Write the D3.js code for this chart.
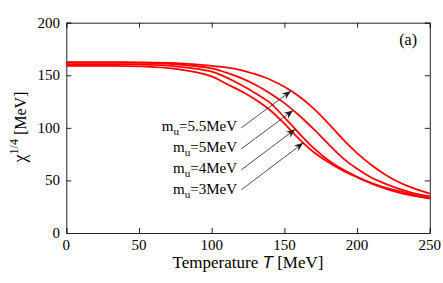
<!DOCTYPE html>
<html>
<head>
<meta charset="utf-8">
<script src="https://cdn.jsdelivr.net/npm/d3@7"></script>
<style>
  body { margin: 0; background: #fff; }
</style>
</head>
<body>
<div id="chart"></div>
<script>
const temps = [0, 25, 50, 75, 100, 110, 120, 130, 140, 150, 160, 170, 180, 190, 200, 210, 220, 230, 240, 250];

// chi^{1/4} in MeV for each quark mass
const chi55 = [162.5, 162.5, 162.3, 161.5, 159, 157.5, 155, 151, 146, 139, 130, 118.5, 104.5, 89.5, 76, 64.5, 55, 47.5, 42, 37.5];
const chi5  = [162, 162, 161.8, 160.5, 156.5, 152.5, 147.5, 141, 133, 123.5, 112, 99, 85, 71.5, 61, 52.5, 46.5, 41.5, 37.5, 35];
const chi4  = [160.5, 160.5, 160.3, 158.5, 153.5, 148, 141, 133, 124, 110, 95, 81, 69.5, 60.5, 53.5, 47.5, 43, 39.5, 36, 33.5];
const chi3  = [159, 159, 158.5, 156, 149, 142, 135, 127, 117, 104, 89.5, 77, 67.5, 59.5, 53, 47, 42, 38, 35, 32.8];

const labels = ["5.5MeV", "5MeV", "4MeV", "3MeV"];
// where each arrow touches its curve (T), and where the labels sit (data units)
const arrowTipT = [154.5, 156, 157.5, 163];
const labelT = 117.4;
const labelV = [97, 77, 57, 37.5];
const arrowStartT = 120.3;
const arrowStartV = [100, 80, 60, 41];

const xTicks = [0, 50, 100, 150, 200, 250];
const yTicks = [0, 50, 100, 150, 200];

const series = [chi55, chi5, chi4, chi3];

const serif = "'Liberation Serif', 'Times New Roman', serif";
const width = 443, height = 283;
const svg = d3.select("#chart").append("svg")
    .attr("width", width)
    .attr("height", height)
    .style("font-family", serif);

const x = d3.scaleLinear().domain([0, 250]).range([66.3, 429.8]);
const y = d3.scaleLinear().domain([0, 200]).range([233, 22.7]);

const axisColor = "#222";

// ticks (inside, all four sides)
const xAxisB = d3.axisBottom(x).tickValues(xTicks).tickSize(-5).tickFormat("");
const xAxisT = d3.axisTop(x).tickValues(xTicks).tickSize(-5).tickFormat("");
const yAxisL = d3.axisLeft(y).tickValues(yTicks).tickSize(-5).tickFormat("");
const yAxisR = d3.axisRight(y).tickValues(yTicks).tickSize(-5).tickFormat("");

svg.append("g").attr("transform", `translate(0,${y(0)})`).call(xAxisB);
svg.append("g").attr("transform", `translate(0,${y(200)})`).call(xAxisT);
svg.append("g").attr("transform", `translate(${x(0)},0)`).call(yAxisL);
svg.append("g").attr("transform", `translate(${x(250)},0)`).call(yAxisR);
svg.selectAll(".domain, .tick line").attr("stroke", axisColor).attr("stroke-width", 1);

// tick labels
svg.append("g").selectAll("text").data(xTicks).join("text")
    .attr("x", d => x(d))
    .attr("y", 250)
    .attr("text-anchor", "middle")
    .style("font-family", serif)
    .attr("font-size", 15)
    .text(d => d);

svg.append("g").selectAll("text").data(yTicks).join("text")
    .attr("x", 60)
    .attr("y", d => y(d) + 5)
    .attr("text-anchor", "end")
    .style("font-family", serif)
    .attr("font-size", 15)
    .text(d => d);

// curves
const line = d3.line()
    .x((d, i) => x(temps[i]))
    .y(d => y(d))
    .curve(d3.curveCatmullRom.alpha(0.5));

svg.append("g").selectAll("path").data(series).join("path")
    .attr("d", d => line(d))
    .attr("fill", "none")
    .attr("stroke", "#ff0000")
    .attr("stroke-width", 1.8);

// arrows + labels
svg.append("defs").append("marker")
    .attr("id", "head")
    .attr("viewBox", "0 0 10 10")
    .attr("refX", 10).attr("refY", 5)
    .attr("markerWidth", 9).attr("markerHeight", 9)
    .attr("markerUnits", "userSpaceOnUse")
    .attr("orient", "auto")
    .append("path")
    .attr("d", "M0,1 L10,5 L0,9 L3,5 Z")
    .attr("fill", "#222");

function valueAt(s, t) {
    const i = d3.bisectRight(temps, t) - 1;
    const f = (t - temps[i]) / (temps[i + 1] - temps[i]);
    return s[i] + f * (s[i + 1] - s[i]);
}

labels.forEach((lab, i) => {
    svg.append("line")
        .attr("x1", x(arrowStartT)).attr("y1", y(arrowStartV[i]))
        .attr("x2", x(arrowTipT[i])).attr("y2", y(valueAt(series[i], arrowTipT[i])))
        .attr("stroke", "#222")
        .attr("stroke-width", 0.8)
        .attr("marker-end", "url(#head)");

    const t = svg.append("text")
        .attr("x", x(labelT))
        .attr("y", y(labelV[i]))
        .attr("text-anchor", "end")
        .style("font-family", serif)
        .attr("font-size", 15);
    t.append("tspan").text("m");
    t.append("tspan").attr("dy", 4).attr("font-size", 11).text("u");
    t.append("tspan").attr("dy", -4).text("=" + lab);
});

// panel tag
svg.append("text")
    .attr("x", 417)
    .attr("y", 45)
    .attr("text-anchor", "end")
    .style("font-family", serif)
    .attr("font-size", 16)
    .text("(a)");

// axis titles
const xl = svg.append("text")
    .attr("x", 248)
    .attr("y", 268)
    .attr("text-anchor", "middle")
    .style("font-family", serif)
    .attr("font-size", 17);
xl.append("tspan").text("Temperature ");
xl.append("tspan").style("font-family", "'Liberation Sans', Arial, sans-serif").attr("font-style", "italic").text("T");
xl.append("tspan").text(" [MeV]");

const yl = svg.append("text")
    .attr("transform", "translate(26,127) rotate(-90)")
    .attr("text-anchor", "middle")
    .style("font-family", serif)
    .attr("font-size", 16);
yl.append("tspan").attr("font-size", 18).text("χ");
yl.append("tspan").attr("dy", -8).attr("font-size", 12).text("1/4");
yl.append("tspan").attr("dy", 8).text(" [MeV]");
</script>
</body>
</html>
